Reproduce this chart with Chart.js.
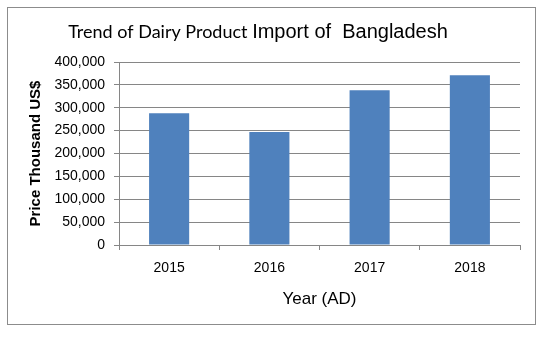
<!DOCTYPE html>
<html>
<head>
<meta charset="utf-8">
<script src="https://cdn.jsdelivr.net/npm/chart.js@4"></script>
<style>
  html, body { margin: 0; padding: 0; background: #fff; }
  #wrap { width: 548px; height: 341px; position: relative; }
</style>
</head>
<body>
<div id="wrap"><canvas id="importChart"></canvas></div>
<script>
// Dairy import values (thousand US$) per year
const years = ['2015', '2016', '2017', '2018'];
const importValues = [288000, 247000, 338000, 371000];
const yTicks = [0, 50000, 100000, 150000, 200000, 250000, 300000, 350000, 400000];

const GRID = '#868686';

// Title with two fonts plus the outer frame
const framePlugin = {
    id: 'frame',
    afterDraw(chart) {
        const ctx = chart.ctx;
        ctx.save();
        ctx.strokeStyle = '#8c8c8c';
        ctx.lineWidth = 1;
        ctx.strokeRect(7.5, 7.5, 528, 317);

        const partA = 'Trend of Dairy Product ';
        const partB = 'Import of  Bangladesh';
        const fontA = '18px Lato, "Open Sans", sans-serif';
        const fontB = '20px "Liberation Sans", Arial, sans-serif';
        ctx.font = fontA;
        const wA = ctx.measureText(partA).width;
        ctx.font = fontB;
        const wB = ctx.measureText(partB).width;
        let x = 258 - (wA + wB) / 2;
        ctx.fillStyle = '#000';
        ctx.textBaseline = 'alphabetic';
        ctx.textAlign = 'left';
        ctx.font = fontA;
        ctx.fillText(partA, x, 38);
        ctx.font = fontB;
        ctx.fillText(partB, x + wA, 38);
        ctx.restore();
    }
};

new Chart(document.getElementById('importChart').getContext('2d'), {
    type: 'bar',
    data: {
        labels: years,
        datasets: [{
            label: 'Import',
            data: importValues,
            backgroundColor: '#4f81bd',
            barPercentage: 0.4,
            categoryPercentage: 1.0
        }]
    },
    options: {
        responsive: true,
        maintainAspectRatio: false,
        animation: false,
        layout: {
            padding: { left: 0, right: 28, top: 62, bottom: 0 }
        },
        plugins: {
            legend: { display: false },
            tooltip: { enabled: false },
            title: { display: false }
        },
        scales: {
            x: {
                afterFit: (scale) => { scale.height = 96; },
                grid: {
                    offset: true,
                    drawOnChartArea: false,
                    drawTicks: true,
                    tickLength: 5,
                    color: GRID
                },
                border: { color: GRID },
                ticks: {
                    color: '#000',
                    padding: 10,
                    font: { family: '"Liberation Sans", Arial, sans-serif', size: 14 }
                },
                title: {
                    display: true,
                    text: 'Year (AD)',
                    color: '#000',
                    padding: { top: 0, bottom: 31 },
                    font: { family: '"Liberation Sans", Arial, sans-serif', size: 17 }
                }
            },
            y: {
                min: 0,
                max: 400000,
                afterFit: (scale) => { scale.width = 119; },
                afterBuildTicks: (scale) => {
                    scale.ticks = yTicks.map(v => ({ value: v }));
                },
                grid: {
                    color: GRID,
                    drawTicks: true,
                    tickLength: 5
                },
                border: { color: GRID },
                ticks: {
                    color: '#000',
                    padding: 9,
                    font: { family: '"Liberation Sans", Arial, sans-serif', size: 14 },
                    callback: (v) => v.toLocaleString('en-US')
                },
                title: {
                    display: true,
                    text: 'Price Thousand US$',
                    color: '#000',
                    padding: { top: 27, bottom: 0 },
                    font: { family: '"Liberation Sans", Arial, sans-serif', size: 15, weight: 'bold' }
                }
            }
        }
    },
    plugins: [framePlugin]
});
</script>
</body>
</html>
